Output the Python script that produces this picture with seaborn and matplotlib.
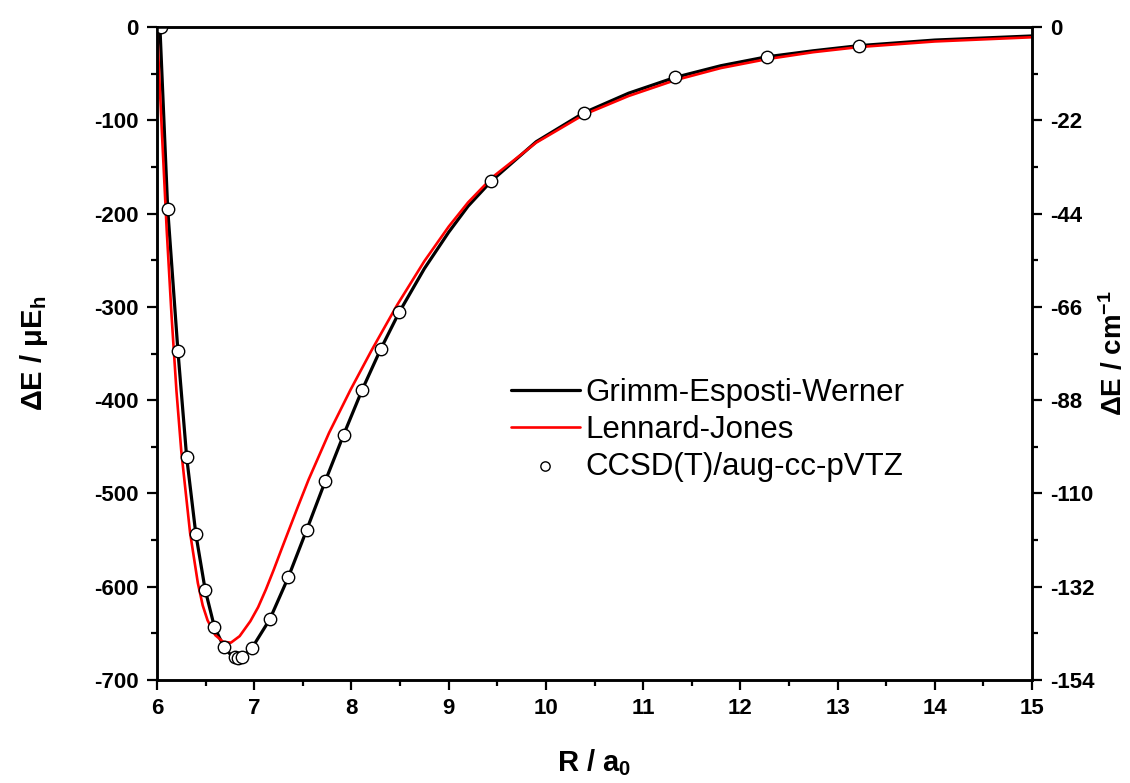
import matplotlib
matplotlib.use("Agg")
import matplotlib.pyplot as plt
import seaborn as sns
import pandas as pd
from matplotlib.ticker import MultipleLocator, FixedLocator

# CCSD(T)/aug-cc-pVTZ points
r_ccsd = [6.04, 6.11, 6.215, 6.305, 6.40, 6.495, 6.59, 6.69, 6.80, 6.835, 6.877, 6.975,
          7.16, 7.35, 7.54, 7.73, 7.92, 8.11, 8.30, 8.49, 9.44, 10.39, 11.33, 12.27, 13.22]
e_ccsd = [0, -195, -347, -461, -544, -603, -643, -665, -675.5, -676, -675, -666,
          -635, -590, -539, -487, -437, -389, -345.5, -306, -165, -92, -54, -32, -20]

# Grimm-Esposti-Werner curve
r_gew = [6.03, 6.11, 6.215, 6.305, 6.40, 6.495, 6.59, 6.69, 6.75, 6.80, 6.84, 6.88,
         6.975, 7.16, 7.35, 7.54, 7.73, 7.92, 8.11, 8.30, 8.49, 8.75, 9.0, 9.2, 9.44,
         9.9, 10.39, 10.85, 11.33, 11.8, 12.27, 12.75, 13.22, 14.0, 15.0]
e_gew = [0, -195, -347, -461, -544, -603, -643, -665, -672, -675.5, -676, -675,
         -666, -635, -590, -539, -487, -437, -389, -345.5, -306, -259, -220, -192, -165,
         -123, -92, -71, -54, -41.5, -32, -25.5, -20, -14, -9.6]

# Lennard-Jones curve
r_lj = [6.0, 6.05, 6.10, 6.15, 6.20, 6.25, 6.34, 6.42, 6.47, 6.52, 6.60, 6.68, 6.76,
        6.85, 6.96, 7.04, 7.12, 7.20, 7.28, 7.35, 7.45, 7.56, 7.77, 7.99, 8.205, 8.47,
        8.75, 9.0, 9.2, 9.45, 9.9, 10.39, 10.85, 11.33, 11.8, 12.27, 12.75, 13.22,
        14.0, 15.0]
e_lj = [0, -112, -218, -310, -390, -455, -542, -596, -620, -636, -652, -659, -660,
        -653, -637, -622, -603, -582, -560, -541, -514, -485, -435, -389, -347, -298,
        -251, -214, -188, -161, -124, -94, -74, -57, -44, -34.5, -27, -21.5,
        -15.5, -11]

x_ticks = [6, 7, 8, 9, 10, 11, 12, 13, 14, 15]
y_ticks = [0, -100, -200, -300, -400, -500, -600, -700]
y_right_labels = ["0", "-22", "-44", "-66", "-88", "-110", "-132", "-154"]

sns.set_style("ticks")
plt.rcParams['font.family'] = ['Liberation Sans', 'DejaVu Sans']
plt.rcParams['mathtext.fontset'] = 'custom'
plt.rcParams['mathtext.rm'] = 'Liberation Sans:bold'
plt.rcParams['mathtext.it'] = 'Liberation Sans:bold'
plt.rcParams['mathtext.bf'] = 'Liberation Sans:bold'
plt.rcParams['text.color'] = 'black'
plt.rcParams['axes.labelcolor'] = 'black'
plt.rcParams['xtick.color'] = 'black'
plt.rcParams['ytick.color'] = 'black'

fig = plt.figure(figsize=(11.3, 7.83), dpi=100)
ax = fig.add_axes([157/1130, 1-680/783, (1032-157)/1130, (680-27)/783])

sns.lineplot(x=r_gew, y=e_gew, ax=ax, color='black', lw=2.3, sort=False,
             label='Grimm-Esposti-Werner')
sns.lineplot(x=r_lj, y=e_lj, ax=ax, color='#ff0000', lw=1.9, sort=False,
             label='Lennard-Jones')
sns.scatterplot(x=r_ccsd, y=e_ccsd, ax=ax, marker='o', s=80, facecolor='white',
                edgecolor='black', linewidth=1.0, zorder=5, label='CCSD(T)/aug-cc-pVTZ')

ax.set_xlim(6, 15)
ax.set_ylim(-700, 0)
ax.xaxis.set_major_locator(FixedLocator(x_ticks))
ax.xaxis.set_minor_locator(MultipleLocator(0.5))
ax.yaxis.set_major_locator(FixedLocator(y_ticks))
ax.yaxis.set_minor_locator(MultipleLocator(50))
ax.set_xticklabels([str(t) for t in x_ticks])
ax.set_yticklabels([str(t) for t in y_ticks])

for sp in ax.spines.values():
    sp.set_visible(True)
    sp.set_linewidth(1.8)
    sp.set_color('black')

ax.tick_params(axis='both', which='major', direction='out', length=7, width=1.6,
               labelsize=16, pad=6, colors='black')
ax.tick_params(axis='both', which='minor', direction='out', length=4, width=1.6)
ax.tick_params(top=False, right=False, which='both')
for lab in ax.get_xticklabels() + ax.get_yticklabels():
    lab.set_fontweight('bold')

ax.set_xlabel('R / a$_{0}$', fontsize=21, fontweight='bold', labelpad=20, color='black')
ax.set_ylabel('ΔE / μE$_{h}$', fontsize=21, fontweight='bold', labelpad=32, color='black')

ax2 = ax.twinx()
ax2.set_ylim(-700, 0)
ax2.yaxis.set_major_locator(FixedLocator(y_ticks))
ax2.yaxis.set_minor_locator(MultipleLocator(50))
ax2.set_yticklabels(y_right_labels)
for sp in ax2.spines.values():
    sp.set_linewidth(1.8)
    sp.set_color('black')
ax2.tick_params(axis='y', which='major', direction='out', length=7, width=1.6,
                labelsize=16, pad=6, colors='black')
ax2.tick_params(axis='y', which='minor', direction='out', length=4, width=1.6)
for lab in ax2.get_yticklabels():
    lab.set_fontweight('bold')
ax2.set_ylabel('ΔE / cm$^{-1}$', fontsize=20, fontweight='bold', labelpad=3, color='black')

leg = ax.legend(loc='upper left', bbox_to_anchor=(0.39, 0.482), frameon=False,
                fontsize=22.5, handlelength=2.2, handletextpad=0.2, labelspacing=0.22,
                borderaxespad=0, markerscale=0.75)
for t in leg.get_texts():
    t.set_color('black')

fig.savefig('out.png', dpi=100)
